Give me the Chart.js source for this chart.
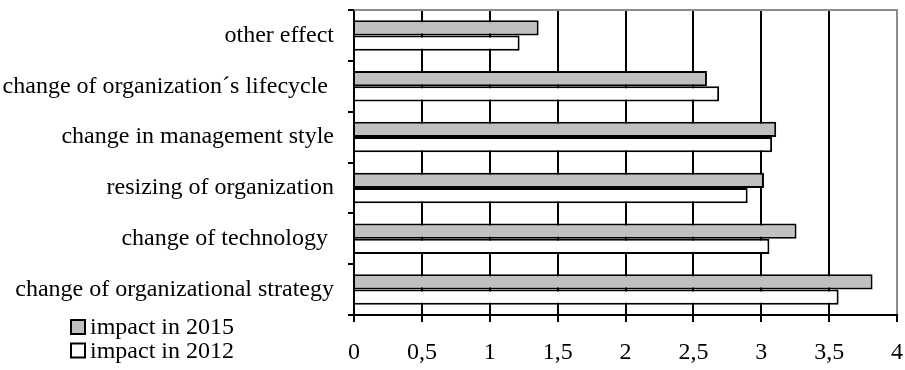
<!DOCTYPE html>
<html>
<head>
<meta charset="utf-8">
<script src="https://cdn.jsdelivr.net/npm/chart.js@4"></script>
<style>
	html, body { margin: 0; padding: 0; background: #fff; }
	#wrap { width: 905px; height: 370px; position: relative; }
</style>
</head>
<body>
<div id="wrap"><canvas id="chart-impact"></canvas></div>
<script>
// Chart data
const CATEGORIES = [
	"other effect",
	"change of organization\u00b4s lifecycle ",
	"change in management style",
	"resizing of organization",
	"change of technology ",
	"change of organizational strategy",
];
const IMPACT_2015 = [1.36, 2.6, 3.11, 3.02, 3.26, 3.82];
const IMPACT_2012 = [1.22, 2.69, 3.08, 2.9, 3.06, 3.57];
const X_TICKS = [0, 0.5, 1, 1.5, 2, 2.5, 3, 3.5, 4];
const SERIES_NAMES = ["impact in 2015", "impact in 2012"];

const FAMILY = "'Liberation Serif', 'Times New Roman', serif";
const FONT = { family: FAMILY, size: 24 };
const GRAY = "#c0c0c0";

// Frame: gray top edge and custom legend at bottom left
const framePlugin = {
	id: "frame",
	afterDraw(chart) {
		const { ctx, chartArea } = chart;
		ctx.save();
		ctx.strokeStyle = "#8c8c8c";
		ctx.lineWidth = 2;
		ctx.beginPath();
		ctx.moveTo(chartArea.left, chartArea.top);
		ctx.lineTo(chartArea.right + 1, chartArea.top);
		ctx.stroke();

		// legend
		ctx.font = `${FONT.size}px ${FONT.family}`;
		ctx.textBaseline = "middle";
		chart.data.datasets.forEach((ds, i) => {
			const y = 327 + i * 23.5;
			ctx.fillStyle = ds.backgroundColor;
			ctx.fillRect(71, y - 7, 14, 14);
			ctx.strokeStyle = "#000";
			ctx.lineWidth = 2;
			ctx.strokeRect(71, y - 7, 14, 14);
			ctx.fillStyle = "#000";
			ctx.fillText(ds.label, 90, y + 1);
		});
		ctx.restore();
	},
};

const CHART_DATA = {
	labels: CATEGORIES,
	datasets: [
		{
			label: SERIES_NAMES[0],
			data: IMPACT_2015,
			backgroundColor: GRAY,
			borderColor: "#000",
			borderWidth: 2,
			categoryPercentage: 0.6,
			barPercentage: 1,
		},
		{
			label: SERIES_NAMES[1],
			data: IMPACT_2012,
			backgroundColor: "#fff",
			borderColor: "#000",
			borderWidth: 2,
			categoryPercentage: 0.6,
			barPercentage: 1,
		},
	],
};

const CHART_CONFIG = {
	type: "bar",
	data: CHART_DATA,
	plugins: [framePlugin],
	options: {
		indexAxis: "y",
		responsive: true,
		maintainAspectRatio: false,
		animation: false,
		layout: {
			padding: { top: 10, right: 8, left: 0, bottom: 0 },
		},
		plugins: {
			legend: { display: false },
			title: { display: false },
			tooltip: { enabled: false },
		},
		scales: {
			x: {
				min: 0,
				max: 4,
				afterBuildTicks: (axis) => {
					axis.ticks = X_TICKS.map((v) => ({ value: v }));
				},
				afterFit: (axis) => {
					axis.height = 55;
					axis.paddingLeft = 0;
					axis.paddingRight = 0;
				},
				border: { display: true, color: "#000", width: 2 },
				grid: {
					color: (c) => (c.tick && c.tick.value === 4 ? "#8c8c8c" : "#000"),
					lineWidth: 2,
					tickColor: "#000",
					tickLength: 7,
				},
				ticks: {
					color: "#000",
					font: FONT,
					padding: 16,
					maxRotation: 0,
					callback: (v) => String(v).replace(".", ","),
				},
			},
			y: {
				afterFit: (axis) => {
					axis.width = 354;
					axis.paddingTop = 0;
					axis.paddingBottom = 0;
				},
				border: { display: true, color: "#000", width: 2 },
				grid: {
					offset: true,
					drawOnChartArea: false,
					color: "#000",
					lineWidth: 2,
					tickLength: 6,
				},
				ticks: {
					color: "#000",
					font: FONT,
					padding: 14,
				},
			},
		},
	},
};

new Chart(document.getElementById("chart-impact"), CHART_CONFIG);
</script>
</body>
</html>
